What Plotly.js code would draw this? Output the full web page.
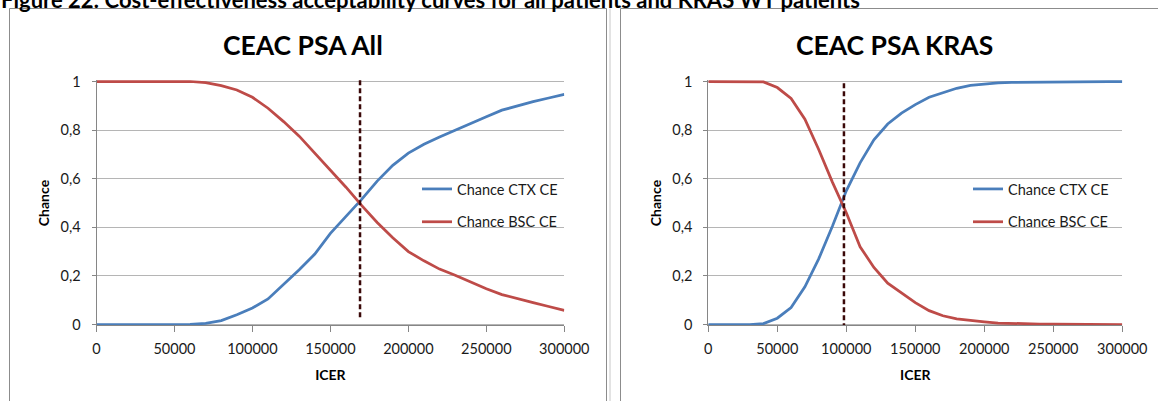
<!DOCTYPE html>
<html><head><meta charset="utf-8">
<script src="https://cdn.plot.ly/plotly-3.0.1.min.js"></script>
<style>html,body{margin:0;padding:0;background:#fff;overflow:hidden}#chart{width:1158px;height:401px}</style>
</head><body><div id="chart"></div>
<script>
// ---- data ----
const icer = [0,10000,20000,30000,40000,50000,60000,70000,80000,90000,100000,110000,120000,130000,140000,150000,160000,170000,180000,190000,200000,210000,220000,230000,240000,250000,260000,270000,280000,290000,300000];
const allCtx = [0,0,0,0,0,0,0.001,0.005,0.016,0.04,0.068,0.105,0.163,0.225,0.29,0.375,0.445,0.515,0.59,0.655,0.705,0.742,0.772,0.80,0.83,0.855,0.882,0.90,0.917,0.932,0.947];
const allBsc = [1,1,1,1,1,1,1,0.995,0.983,0.965,0.935,0.89,0.835,0.775,0.705,0.635,0.565,0.49,0.42,0.357,0.30,0.262,0.228,0.203,0.175,0.147,0.123,0.108,0.09,0.074,0.058];
const krasCtx = [0,0,0,0,0.004,0.026,0.07,0.155,0.27,0.405,0.55,0.665,0.76,0.825,0.87,0.905,0.935,0.955,0.972,0.984,0.99,0.994,0.996,0.997,0.998,0.999,0.999,1,1,1,1];
const krasBsc = [1,1,1,1,0.998,0.975,0.93,0.845,0.72,0.585,0.46,0.32,0.235,0.17,0.13,0.09,0.057,0.036,0.023,0.016,0.011,0.006,0.004,0.003,0.002,0.0015,0.001,0.001,0.0005,0,0];
const allThresholdX = [169000,169000];
const allThresholdY = [0.03,1.035];
const krasThresholdX = [98300,98300];
const krasThresholdY = [-0.015,1.0];
const seriesNames = ['Chance CTX CE','Chance BSC CE'];
const panelTitles = ['CEAC PSA All','CEAC PSA KRAS'];
const caption = 'Figure 22: Cost-effectiveness acceptability curves for all patients and KRAS WT patients';
const yTickVals = [0,0.2,0.4,0.6,0.8,1];
const yTickText = ['0','0,2','0,4','0,6','0,8','1'];
const xTickVals = [0,50000,100000,150000,200000,250000,300000];
const xTickText = ['0','50000','100000','150000','200000','250000','300000'];

// ---- layout helpers (pixel -> paper) ----
const W = 1158, H = 401;
const px = v => v / W;
const py = v => 1 - v / H;
const FONT = 'Lato, "Open Sans", sans-serif';
const BLUE = '#4A7EBB', RED = '#BE4B48', DASH = '#3a0808';
const yPxTop = 81.5, yPxBot = 324.5, yPad = 0.006, ppu = (yPxBot - yPxTop);
const yDomain = [py(yPxBot + yPad * ppu), py(yPxTop - yPad * ppu)];

function line(x, y, color, name, xa, ya, lg, grp) {
  return {x, y, type: 'scatter', mode: 'lines', name, xaxis: xa, yaxis: ya,
    legend: lg, legendgroup: grp, line: {color, width: 2.75}, hoverinfo: 'x+y'};
}
const traces = [
  line(icer, allCtx, BLUE, seriesNames[0], 'x', 'y', 'legend', 'a'),
  line(icer, allBsc, RED, seriesNames[1], 'x', 'y', 'legend', 'b'),
  {x: allThresholdX, y: allThresholdY, type: 'scatter', mode: 'lines', xaxis: 'x', yaxis: 'y', showlegend: false,
   line: {color: DASH, width: 2.5, dash: '5px,3px'}},
  line(icer, krasCtx, BLUE, seriesNames[0], 'x2', 'y2', 'legend2', 'c'),
  line(icer, krasBsc, RED, seriesNames[1], 'x2', 'y2', 'legend2', 'd'),
  {x: krasThresholdX, y: krasThresholdY, type: 'scatter', mode: 'lines', xaxis: 'x2', yaxis: 'y2', showlegend: false,
   line: {color: DASH, width: 2.5, dash: '5px,3px'}}
];

function xAxis(domain) {
  return {domain, range: [0, 300000], anchor: 'free', position: py(yPxBot),
    showline: true, linecolor: '#868686', linewidth: 1, ticks: 'outside', ticklen: 6, tickcolor: '#868686',
    showgrid: false, zeroline: false, tickmode: 'array', tickvals: xTickVals, ticktext: xTickText,
    tickfont: {family: FONT, size: 14.5, color: '#1a1a1a'}, ticklabelstandoff: 5,
    title: {text: 'ICER', font: {family: FONT, size: 14, color: '#000', weight: 'bold'}, standoff: 14}};
}
function yAxis(anchor) {
  return {domain: yDomain, range: [-yPad, 1 + yPad], anchor,
    showline: true, linecolor: '#868686', linewidth: 1, ticks: 'outside', ticklen: 4, tickcolor: '#868686',
    showgrid: true, gridcolor: '#b5b5b5', gridwidth: 1, zeroline: false,
    tickmode: 'array', tickvals: yTickVals, ticktext: yTickText,
    tickfont: {family: FONT, size: 14.5, color: '#1a1a1a'}, ticklabelstandoff: 8,
    title: {text: 'Chance', font: {family: FONT, size: 14, color: '#000', weight: 'bold'}, standoff: 7}};
}
const legendBase = {xanchor: 'left', yanchor: 'top', bgcolor: 'rgba(0,0,0,0)', borderwidth: 0,
  font: {family: FONT, size: 14.5, color: '#1a1a1a'}, traceorder: 'grouped', tracegroupgap: 11, itemclick: false};

const layout = {
  width: W, height: H, margin: {l: 0, r: 0, t: 0, b: 0}, paper_bgcolor: '#fff', plot_bgcolor: '#fff',
  showlegend: true, hovermode: 'closest',
  xaxis: xAxis([px(96.5), px(564.3)]),
  yaxis: yAxis('x'),
  xaxis2: xAxis([px(708.3), px(1122.3)]),
  yaxis2: yAxis('x2'),
  legend: Object.assign({x: px(417), y: py(173)}, legendBase),
  legend2: Object.assign({x: px(968), y: py(173)}, legendBase),
  annotations: [
    {text: panelTitles[0], xref: 'paper', yref: 'paper', x: px(303), y: py(45), xanchor: 'center', yanchor: 'middle',
     showarrow: false, font: {family: FONT, size: 26.5, color: '#000', weight: 'bold'}},
    {text: panelTitles[1], xref: 'paper', yref: 'paper', x: px(894), y: py(45), xanchor: 'center', yanchor: 'middle',
     showarrow: false, font: {family: FONT, size: 26.5, color: '#000', weight: 'bold'}},
    {text: caption, xref: 'paper', yref: 'paper', x: px(-1), y: py(-16), xanchor: 'left', yanchor: 'top',
     showarrow: false, font: {family: FONT, size: 22, color: '#000', weight: 'bold'}}
  ],
  shapes: [
    {type: 'rect', xref: 'paper', yref: 'paper', x0: px(9.5), x1: px(606.5), y0: py(8.5), y1: py(420),
     line: {color: '#8c8c8c', width: 1}, fillcolor: 'rgba(0,0,0,0)', layer: 'below'},
    {type: 'line', xref: 'paper', yref: 'paper', x0: px(610), x1: px(610), y0: py(8.5), y1: py(420),
     line: {color: '#c8c8c8', width: 1}, layer: 'below'},
    {type: 'rect', xref: 'paper', yref: 'paper', x0: px(620.5), x1: px(1170), y0: py(8.5), y1: py(420),
     line: {color: '#8c8c8c', width: 1}, fillcolor: 'rgba(0,0,0,0)', layer: 'below'}
  ]
};
Plotly.newPlot('chart', traces, layout, {displayModeBar: false, staticPlot: true});
</script>
</body></html>
